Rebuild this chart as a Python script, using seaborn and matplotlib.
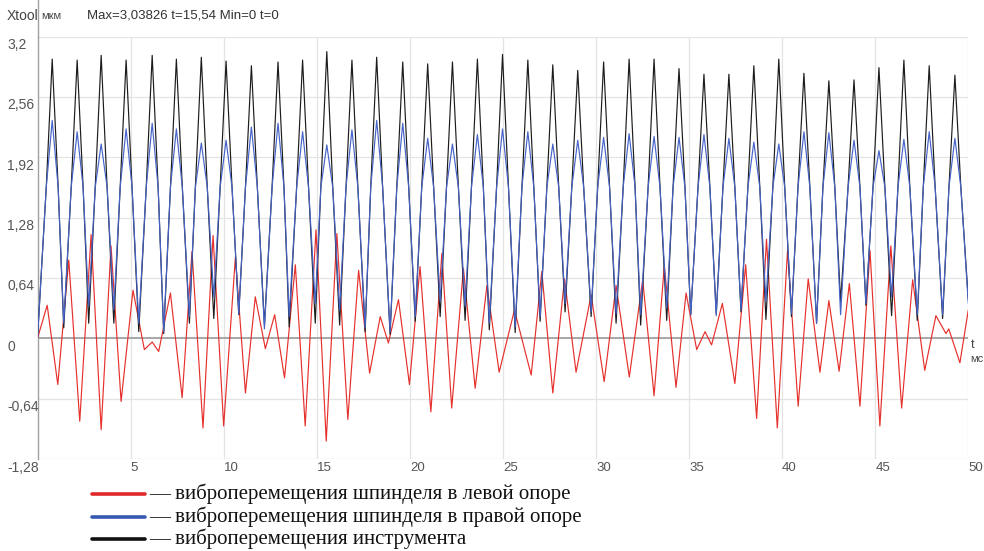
import pandas as pd
import matplotlib.pyplot as plt
import matplotlib.transforms as mtransforms
import seaborn as sns
from matplotlib.lines import Line2D

# peak times (ms) of tool / right-support vibration and values at the peaks (мкм)
peak_t = [0.79, 2.13, 3.42, 4.76, 6.16, 7.46, 8.80, 10.13, 11.49, 12.92, 14.24, 15.54, 16.89,
          18.22, 19.62, 20.96, 22.29, 23.63, 24.98, 26.34, 27.68, 29.02, 30.41, 31.78, 33.12,
          34.46, 35.80, 37.14, 38.48, 39.82, 41.17, 42.51, 43.86, 45.20, 46.54, 47.90, 49.28]
tool_peak = [2.96, 2.95, 3.00, 2.95, 3.00, 2.96, 2.98, 2.94, 2.89, 2.93, 2.95, 3.04, 2.95,
             2.98, 2.93, 2.91, 2.93, 2.96, 3.01, 2.95, 2.90, 2.84, 2.93, 2.96, 2.96,
             2.86, 2.80, 2.80, 2.89, 2.96, 2.81, 2.73, 2.74, 2.87, 2.95, 2.89, 2.79]
right_peak = [2.31, 2.19, 2.06, 2.22, 2.28, 2.22, 2.07, 2.10, 2.24, 2.28, 2.19, 2.05, 2.21,
              2.31, 2.28, 2.12, 2.06, 2.16, 2.22, 2.19, 2.06, 2.10, 2.13, 2.17, 2.14,
              2.13, 2.16, 2.12, 2.08, 2.06, 2.19, 2.18, 2.10, 1.99, 2.11, 2.19, 2.12]

# times where both curves pass the 1.6 level (rising / falling) - there they still coincide
mid_v = 1.6
mid_up_t = [0.47, 1.81, 3.10, 4.44, 5.84, 7.14, 8.48, 9.81, 11.17, 12.60, 13.92, 15.22, 16.57,
            17.90, 19.30, 20.64, 21.97, 23.31, 24.66, 26.02, 27.36, 28.70, 30.09, 31.46, 32.80,
            34.14, 35.48, 36.82, 38.16, 39.50, 40.85, 42.19, 43.54, 44.88, 46.22, 47.58, 48.96]
mid_down_t = [1.11, 2.45, 3.74, 5.08, 6.48, 7.78, 9.12, 10.45, 11.81, 13.24, 14.56, 15.86, 17.21,
              18.54, 19.94, 21.28, 22.61, 23.95, 25.30, 26.66, 28.00, 29.34, 30.73, 32.10, 33.44,
              34.78, 36.12, 37.46, 38.80, 40.14, 41.49, 42.83, 44.18, 45.52, 46.86, 48.22, 49.60]

# trough times (first and last are the ends of the record)
trough_t = [0.0, 1.41, 2.75, 4.10, 5.44, 6.78, 8.16, 9.47, 10.81, 12.19, 13.52, 14.92, 16.23,
            17.60, 18.94, 20.29, 21.63, 22.97, 24.27, 25.66, 27.00, 28.34, 29.74, 31.08, 32.40,
            33.80, 35.09, 36.46, 37.79, 39.13, 40.50, 41.85, 43.14, 44.50, 45.88, 47.26, 48.62, 50.0]
tool_trough = [0.0, 0.11, 0.16, 0.16, 0.07, 0.05, 0.16, 0.21, 0.25, 0.14, 0.12, 0.16, 0.14,
               0.07, 0.04, 0.18, 0.23, 0.19, 0.09, 0.06, 0.18, 0.28, 0.23, 0.16, 0.14,
               0.19, 0.25, 0.26, 0.28, 0.20, 0.23, 0.16, 0.39, 0.35, 0.24, 0.19, 0.21, 0.41]
right_trough = [0.0, 0.16, 0.34, 0.30, 0.16, 0.07, 0.23, 0.44, 0.26, 0.10, 0.23, 0.37, 0.30,
                0.11, 0.07, 0.23, 0.39, 0.34, 0.16, 0.12, 0.23, 0.37, 0.28, 0.26, 0.25,
                0.32, 0.25, 0.24, 0.30, 0.39, 0.26, 0.16, 0.25, 0.37, 0.44, 0.25, 0.25, 0.37]

# left support: turning points of the signal
left_t = [0.00, 0.52, 1.09, 1.68, 2.27, 2.88, 3.42, 3.95, 4.49, 5.13, 5.74, 6.16, 6.51, 7.14,
          7.77, 8.30, 8.89, 9.43, 10.00, 10.63, 11.17, 11.70, 12.24, 12.74, 13.27, 13.85,
          14.38, 14.96, 15.51, 16.08, 16.67, 17.25, 17.84, 18.41, 18.85, 19.39, 19.98, 20.55,
          21.13, 21.72, 22.25, 22.88, 23.51, 24.14, 24.80, 25.62, 26.52, 27.09, 27.68, 28.31,
          28.93, 29.74, 30.44, 31.08, 31.79, 32.51, 33.12, 33.67, 34.30, 34.84, 35.41, 35.86,
          36.21, 36.79, 37.46, 38.04, 38.63, 39.16, 39.74, 40.29, 40.86, 41.40, 42.03, 42.51,
          43.06, 43.61, 44.18, 44.72, 45.25, 45.84, 46.42, 47.01, 47.66, 48.26, 48.80, 48.95,
          49.55, 50.00]
left_v = [0.00, 0.35, -0.49, 0.83, -0.88, 1.10, -0.97, 0.98, -0.67, 0.51, -0.12, -0.04, -0.14, 0.48,
          -0.63, 0.92, -0.95, 1.09, -0.93, 0.86, -0.58, 0.44, -0.11, 0.25, -0.42, 0.78,
          -0.93, 1.15, -1.09, 1.11, -0.86, 0.72, -0.37, 0.23, -0.05, 0.41, -0.49, 0.76,
          -0.78, 0.90, -0.74, 0.74, -0.53, 0.56, -0.36, 0.30, -0.39, 0.71, -0.58, 0.63,
          -0.36, 0.46, -0.46, 0.56, -0.41, 0.62, -0.61, 0.77, -0.52, 0.48, -0.12, 0.07,
          -0.07, 0.37, -0.48, 0.78, -0.85, 1.05, -0.95, 0.93, -0.72, 0.63, -0.36, 0.40,
          -0.35, 0.58, -0.72, 0.93, -0.93, 0.98, -0.74, 0.62, -0.34, 0.24, 0.05, 0.10,
          -0.26, 0.30]

y_ticks = [-1.28, -0.64, 0, 0.64, 1.28, 1.92, 2.56, 3.2]
y_labels = ["-1,28", "-0,64", "0", "0,64", "1,28", "1,92", "2,56", "3,2"]
x_ticks = [5, 10, 15, 20, 25, 30, 35, 40, 45, 50]

legend_labels = ["— виброперемещения шпинделя в левой опоре",
                 "— виброперемещения шпинделя в правой опоре",
                 "— виброперемещения инструмента"]


def merge(troughs, peaks):
    mids = mid_up_t + mid_down_t
    parts = [pd.DataFrame({"t": trough_t, "v": troughs}),
             pd.DataFrame({"t": peak_t, "v": peaks}),
             pd.DataFrame({"t": mids, "v": [mid_v] * len(mids)})]
    return pd.concat(parts).sort_values("t")


tool_df = merge(tool_trough, tool_peak)
right_df = merge(right_trough, right_peak)
left_df = pd.DataFrame({"t": left_t, "v": left_v})

sns.set_style("white")
plt.rcParams["font.family"] = ["Liberation Sans", "DejaVu Sans"]

W, H = 984, 551
fig = plt.figure(figsize=(W / 100, H / 100), dpi=100)
ax_l, ax_r, ax_t, ax_b = 37.5, 968.3, 36.5, 459
ax = fig.add_axes([ax_l / W, 1 - ax_b / H, (ax_r - ax_l) / W, (ax_b - ax_t) / H])

ax.axhline(0, color="#a8a8a8", lw=1.4, zorder=1)
sns.lineplot(data=left_df, x="t", y="v", color="#e5302c", lw=0.85, estimator=None, ax=ax, zorder=3)
sns.lineplot(data=tool_df, x="t", y="v", color="#1c1c1c", lw=0.85, estimator=None, ax=ax, zorder=4)
sns.lineplot(data=right_df, x="t", y="v", color="#4563c8", lw=0.85, estimator=None, ax=ax, zorder=5)

ax.set_xlim(0, 50)
ax.set_ylim(-1.28, 3.2)
ax.set_xticks(x_ticks)
ax.set_xticklabels([str(x) for x in x_ticks])
ax.set_yticks(y_ticks)
ax.set_yticklabels([])
ax.set_xlabel("")
ax.set_ylabel("")
ax.grid(True, color="#e4e4e4", lw=0.9)
ax.set_axisbelow(True)
for s in ["top", "right", "bottom"]:
    ax.spines[s].set_visible(False)
ax.spines["left"].set_color("#a0a0a0")
ax.spines["left"].set_linewidth(1.0)
# left axis line runs up into the header
ax.plot([0, 0], [1, 1 + ax_t / (ax_b - ax_t)], transform=ax.transAxes, clip_on=False,
        color="#a0a0a0", lw=1.0)

ax.tick_params(axis="y", length=0)
ax.tick_params(axis="x", length=0, pad=2, labelsize=9.5, labelcolor="#555555")
for lab in ax.get_xticklabels():
    lab.set_horizontalalignment("left")

# y labels sit just below their grid lines, left-aligned at the figure edge
ylab_tr = mtransforms.blended_transform_factory(fig.transFigure, ax.transData) + \
    mtransforms.ScaledTranslation(0, -8.5 / 100, fig.dpi_scale_trans)
for yv, lab in zip(y_ticks, y_labels):
    ax.text(7 / W, yv, lab, transform=ylab_tr, ha="left", va="center", fontsize=10,
            color="#555555", clip_on=False)

# header
fig.text(7 / W, 1 - 16 / H, "Xtool", fontsize=10, color="#444444", va="center")
fig.text(41 / W, 1 - 16 / H, "мкм", fontsize=8, color="#444444", va="center")
fig.text(87 / W, 1 - 16 / H, "Max=3,03826 t=15,54 Min=0 t=0", fontsize=9.5,
         color="#333333", va="center")
fig.text(971 / W, 1 - 345 / H, "t", fontsize=9, color="#444444", va="center")
fig.text(970 / W, 1 - 359 / H, "мс", fontsize=8, color="#444444", va="center")

# legend below the plot
legend_colors = ["#e02828", "#3558b0", "#111111"]
for i, (lab, col) in enumerate(zip(legend_labels, legend_colors)):
    yy = 1 - (494 + 22.5 * i) / H
    fig.add_artist(Line2D([92 / W, 145 / W], [yy, yy], color=col, lw=2.6))
    fig.text(149 / W, yy, lab, fontsize=15, family=["Liberation Serif", "DejaVu Serif"],
             color="#111111", va="center")

fig.savefig("out.png", dpi=100)
